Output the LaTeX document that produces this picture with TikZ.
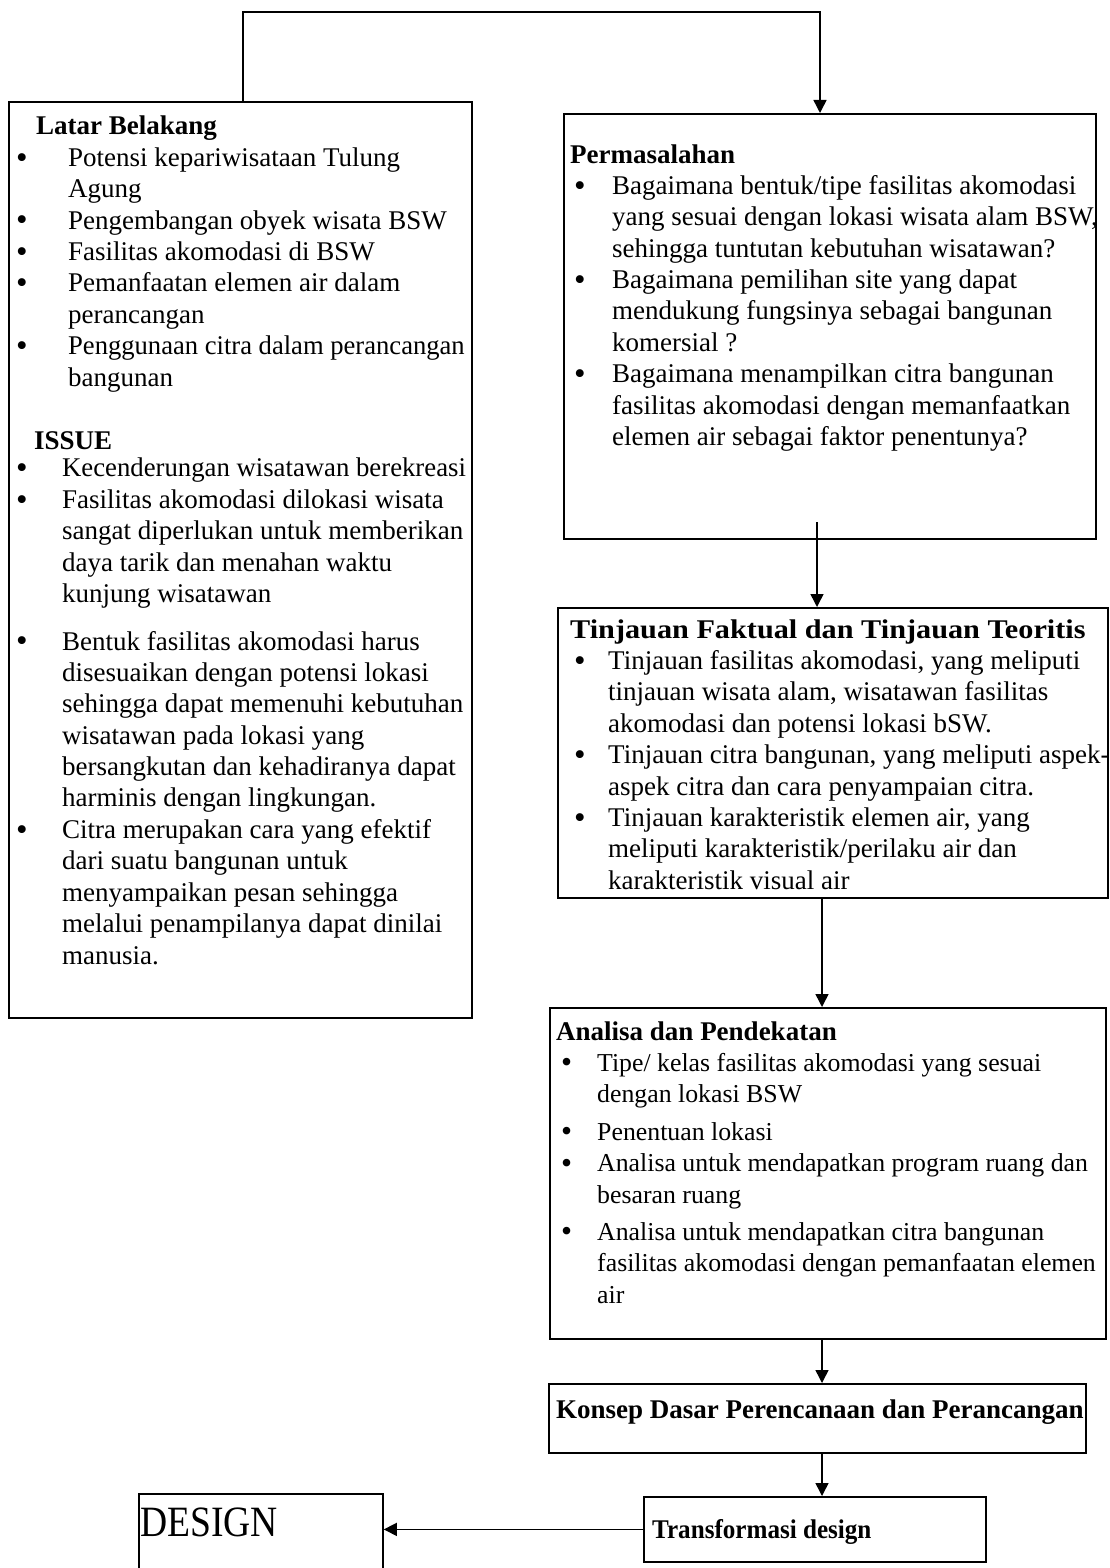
\documentclass[tikz,border=0pt]{standalone}
\usepackage{fontspec}
\usepackage{graphicx}
\setmainfont{Liberation Serif}
\usetikzlibrary{arrows.meta}
\newlength\bind
\newlength\tind
\newcommand\bigbul{\smash{\raisebox{-0.06em}{\scalebox{1.22}{\textbullet}}}}
\newcommand\ttl[2][0pt]{\noindent\hspace*{#1}\textbf{#2}\par}
\newcommand\bul[1]{\par\noindent\hbox to \tind{\hspace*{\bind}\bigbul\hss}\mbox{#1}\par}
\newcommand\cnt[1]{\par\noindent\hspace*{\tind}\mbox{#1}\par}
\newcommand\bodyfont{\fontsize{27}{31.4}\selectfont\setlength\parskip{0pt}}
\tikzset{
  box/.style={draw, line width=1.8pt, inner sep=0pt, anchor=north west},
  txt/.style={inner sep=0pt, anchor=base west},
  arr/.style={line width=1.5pt, -{Triangle[width=13pt,length=13pt]}},
  ln/.style={line width=1.5pt}
}
\begin{document}
\begin{tikzpicture}[x=1pt,y=-1pt]
\useasboundingbox (0,0) rectangle (1110,1568);
% boxes
\node[box, minimum width=463pt, minimum height=916pt] (L) at (8,101) {};
\node[box, minimum width=532pt, minimum height=425pt] (P) at (563,113) {};
\node[box, minimum width=550pt, minimum height=290pt] (T) at (557,607) {};
\node[box, minimum width=556pt, minimum height=331pt] (A) at (549,1007) {};
\node[box, minimum width=537pt, minimum height=69pt] (K) at (548,1383) {};
\node[box, minimum width=342pt, minimum height=65pt] (Tr) at (643,1496) {};
\node[box, minimum width=244pt, minimum height=97pt] (D) at (138,1493) {};
% texts
\node[txt] (Ltx) at (16,135) {\parbox[t]{600pt}{\bodyfont
  \setlength\bind{0pt}\setlength\tind{52pt}
  \ttl[20pt]{Latar Belakang}
  \bul{Potensi kepariwisataan Tulung}
  \cnt{Agung}
  \bul{Pengembangan obyek wisata BSW}
  \bul{Fasilitas akomodasi di BSW}
  \bul{Pemanfaatan elemen air dalam}
  \cnt{perancangan}
  \bul{\scalebox{0.985}[1]{Penggunaan citra dalam perancangan}}
  \cnt{bangunan}
  \vspace{32pt}
  \setlength\tind{46pt}
  \ttl[18pt]{ISSUE}
  \vspace{-4pt}
  \bul{\scalebox{0.99}[1]{Kecenderungan wisatawan berekreasi}}
  \bul{Fasilitas akomodasi dilokasi wisata}
  \cnt{sangat diperlukan untuk memberikan}
  \cnt{daya tarik dan menahan waktu}
  \cnt{kunjung wisatawan}
  \vspace{16pt}
  \bul{Bentuk fasilitas akomodasi harus}
  \cnt{disesuaikan dengan potensi lokasi}
  \cnt{sehingga dapat memenuhi kebutuhan}
  \cnt{wisatawan pada lokasi yang}
  \cnt{bersangkutan dan kehadiranya dapat}
  \cnt{harminis dengan lingkungan.}
  \bul{Citra merupakan cara yang efektif}
  \cnt{dari suatu bangunan untuk}
  \cnt{menyampaikan pesan sehingga}
  \cnt{melalui penampilanya dapat dinilai}
  \cnt{manusia.}
}};
\node[txt] (Ptx) at (570,163) {\parbox[t]{600pt}{\bodyfont
  \setlength\bind{4pt}\setlength\tind{42pt}
  \ttl{Permasalahan}
  \bul{Bagaimana bentuk/tipe fasilitas akomodasi}
  \cnt{yang sesuai dengan lokasi wisata alam BSW,}
  \cnt{sehingga tuntutan kebutuhan wisatawan?}
  \bul{Bagaimana pemilihan site yang dapat}
  \cnt{mendukung fungsinya sebagai bangunan}
  \cnt{komersial ?}
  \bul{Bagaimana menampilkan citra bangunan}
  \cnt{fasilitas akomodasi dengan memanfaatkan}
  \cnt{elemen air sebagai faktor penentunya?}
}};
\node[txt] (Ttx) at (570,638) {\parbox[t]{600pt}{\bodyfont
  \setlength\bind{4pt}\setlength\tind{38pt}
  \ttl{\scalebox{1.12}[1]{Tinjauan Faktual dan Tinjauan Teoritis}}
  \bul{Tinjauan fasilitas akomodasi, yang meliputi}
  \cnt{tinjauan wisata alam, wisatawan fasilitas}
  \cnt{akomodasi dan potensi lokasi bSW.}
  \bul{Tinjauan citra bangunan, yang meliputi aspek-}
  \cnt{aspek citra dan cara penyampaian citra.}
  \bul{Tinjauan karakteristik elemen air, yang}
  \cnt{meliputi karakteristik/perilaku air dan}
  \cnt{karakteristik visual air}
}};
\node[txt] (Atx) at (556,1040) {\parbox[t]{600pt}{\bodyfont
  \setlength\bind{5pt}\setlength\tind{41pt}
  \ttl{Analisa dan Pendekatan}
  \fontsize{25.8}{31.4}\selectfont
  \bul{Tipe/ kelas fasilitas akomodasi yang sesuai}
  \cnt{dengan lokasi BSW}
  \vspace{6pt}
  \bul{Penentuan lokasi}
  \bul{Analisa untuk mendapatkan program ruang dan}
  \cnt{besaran ruang}
  \vspace{6pt}
  \bul{Analisa untuk mendapatkan citra bangunan}
  \cnt{fasilitas akomodasi dengan pemanfaatan elemen}
  \cnt{air}
}};
\node[txt] (Ktx) at (556,1418) {\fontsize{27}{31.4}\selectfont\textbf{Konsep Dasar Perencanaan dan Perancangan}};
\node[txt] (Trtx) at (652,1538) {\fontsize{27}{31.4}\selectfont\scalebox{0.93}[1]{\textbf{Transformasi design}}};
\node[txt] (Dtx) at (140,1536) {\fontsize{37.6}{40}\selectfont\scalebox{1}[1.15]{DESIGN}};
% connectors
\coordinate (t1) at (243,12);
\coordinate (t2) at (820,12);
\draw[arr] (L.north -| t1) -- (t1) -- (t2) -- (P.north -| t2);
\coordinate (p1) at (817,522);
\draw[arr] (p1) -- (T.north -| p1);
\coordinate (c1) at (822,0);
\draw[arr] (T.south -| c1) -- (A.north -| c1);
\draw[arr] (A.south -| c1) -- (K.north -| c1);
\draw[arr] (K.south -| c1) -- (Tr.north -| c1);
\draw[arr] (Tr.west) -- (D.east |- Tr.west);
\end{tikzpicture}
\end{document}
